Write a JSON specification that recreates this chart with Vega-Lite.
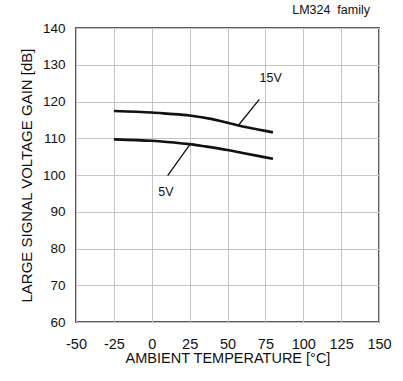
{
  "$schema": "https://vega.github.io/schema/vega-lite/v6.json",
  "width": 303,
  "height": 294,
  "autosize": {"type": "none"},
  "padding": {"left": 76, "top": 28, "right": 24, "bottom": 59},
  "background": "white",
  "title": {
    "text": "LM324\u00a0 family",
    "anchor": "end",
    "frame": "group",
    "orient": "top",
    "offset": 5,
    "dx": -9,
    "font": "Liberation Sans",
    "fontSize": 12.5,
    "fontWeight": "normal",
    "color": "#111"
  },
  "config": {
    "view": {"stroke": "#5a5a5a", "strokeWidth": 2},
    "axis": {
      "labelFont": "Liberation Sans",
      "titleFont": "Liberation Sans",
      "labelFontSize": 13.5,
      "titleFontSize": 14.5,
      "titleFontWeight": "normal",
      "labelColor": "#111",
      "titleColor": "#111",
      "grid": true,
      "gridColor": "#c4c4c4",
      "gridWidth": 1,
      "domain": false,
      "ticks": false,
      "tickSize": 0,
      "labelOverlap": false,
      "labelFlush": false
    }
  },
  "datasets": {
    "curves": [
      {"t": -25, "g": 117.4, "s": "15V"},
      {"t": -10, "g": 117.2, "s": "15V"},
      {"t": 0, "g": 117.0, "s": "15V"},
      {"t": 10, "g": 116.7, "s": "15V"},
      {"t": 25, "g": 116.2, "s": "15V"},
      {"t": 40, "g": 115.2, "s": "15V"},
      {"t": 50, "g": 114.2, "s": "15V"},
      {"t": 60, "g": 113.2, "s": "15V"},
      {"t": 70, "g": 112.4, "s": "15V"},
      {"t": 80, "g": 111.6, "s": "15V"},
      {"t": -25, "g": 109.7, "s": "5V"},
      {"t": -10, "g": 109.5, "s": "5V"},
      {"t": 0, "g": 109.3, "s": "5V"},
      {"t": 10, "g": 109.0, "s": "5V"},
      {"t": 25, "g": 108.4, "s": "5V"},
      {"t": 35, "g": 107.8, "s": "5V"},
      {"t": 50, "g": 106.8, "s": "5V"},
      {"t": 60, "g": 106.0, "s": "5V"},
      {"t": 70, "g": 105.2, "s": "5V"},
      {"t": 80, "g": 104.4, "s": "5V"}
    ],
    "leaders": [
      {"t1": 57, "g1": 113.4, "t2": 71, "g2": 120.6},
      {"t1": 25, "g1": 108.2, "t2": 10.5, "g2": 99.8}
    ],
    "labels": [
      {"t": 78.5, "g": 126.5, "label": "15V"},
      {"t": 9.4, "g": 95.3, "label": "5V"}
    ]
  },
  "encoding": {
    "x": {
      "field": "t",
      "type": "quantitative",
      "scale": {"domain": [-50, 150], "nice": false},
      "axis": {
        "values": [-50, -25, 0, 25, 50, 75, 100, 125, 150],
        "labelExpr": "datum.value < 0 ? '-' + abs(datum.value) : '' + datum.value",
        "labelFontSize": 14.5,
        "title": "AMBIENT TEMPERATURE [\u00b0C]",
        "labelPadding": 15,
        "titlePadding": 1
      }
    },
    "y": {
      "field": "g",
      "type": "quantitative",
      "scale": {"domain": [60, 140], "nice": false, "zero": false},
      "axis": {
        "values": [60, 70, 80, 90, 100, 110, 120, 130, 140],
        "title": "LARGE SIGNAL VOLTAGE GAIN [dB]",
        "titleFontSize": 15,
        "labelPadding": 11,
        "titlePadding": 8
      }
    }
  },
  "layer": [
    {
      "data": {"name": "curves"},
      "mark": {"type": "line", "color": "#111", "strokeWidth": 2.6, "interpolate": "monotone"},
      "encoding": {
        "detail": {"field": "s"}
      }
    },
    {
      "data": {"name": "leaders"},
      "mark": {"type": "rule", "color": "#111", "strokeWidth": 1.3},
      "encoding": {
        "x": {"field": "t1", "type": "quantitative"},
        "y": {"field": "g1", "type": "quantitative"},
        "x2": {"field": "t2"},
        "y2": {"field": "g2"}
      }
    },
    {
      "data": {"name": "labels"},
      "mark": {"type": "text", "font": "Liberation Sans", "fontSize": 12.5, "color": "#111"},
      "encoding": {
        "text": {"field": "label"}
      }
    }
  ]
}
